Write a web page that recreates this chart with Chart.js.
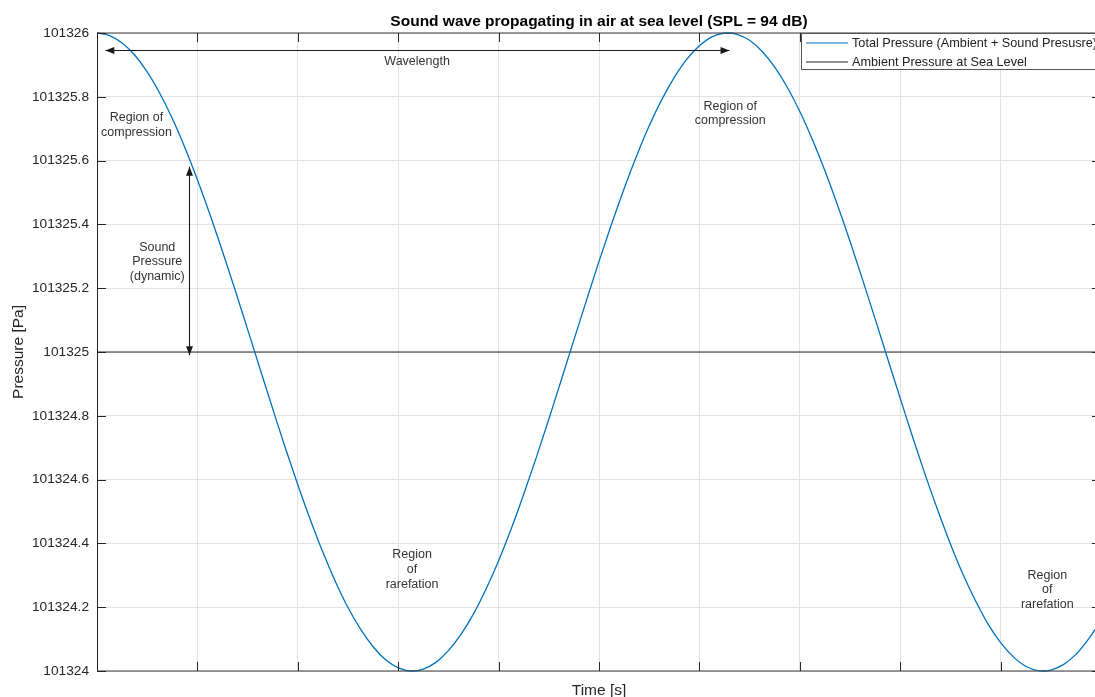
<!DOCTYPE html>
<html>
<head>
<meta charset="utf-8">
<title>Sound wave propagating in air at sea level</title>
<script src="https://cdn.jsdelivr.net/npm/chart.js@4/dist/chart.umd.min.js"></script>
<style>
  html, body { margin: 0; padding: 0; background: #ffffff; }
  #wrap { width: 1095px; height: 697px; position: relative; }
  canvas { display: block; }
</style>
</head>
<body>
<div id="wrap"><canvas id="chart" width="1095" height="697"></canvas></div>
<script>
// Time samples [s] and total pressure readings [Pa]
const timeS = [
  0, 0.125, 0.25, 0.375, 0.5, 0.625, 0.75, 0.875, 1.0, 1.125, 1.25, 1.375, 1.5, 1.625,
  1.75, 1.875, 2.0, 2.125, 2.25, 2.375, 2.5, 2.625, 2.75, 2.875, 3.0, 3.14, 3.25, 3.375,
  3.5, 3.625, 3.75, 3.875, 4.0, 4.125, 4.25, 4.375, 4.5, 4.625, 4.75, 4.875, 5.0, 5.125,
  5.25, 5.375, 5.5, 5.625, 5.75, 5.875, 6.0, 6.125, 6.28, 6.375, 6.5, 6.625, 6.75, 6.875,
  7.0, 7.125, 7.25, 7.375, 7.5, 7.625, 7.75, 7.875, 8.0, 8.125, 8.25, 8.375, 8.5, 8.625,
  8.75, 8.875, 9.0, 9.125, 9.25, 9.42, 9.5, 9.625, 9.75, 9.875, 9.94
];
const pressurePa = [
  101326.000, 101325.992, 101325.969, 101325.931, 101325.878, 101325.811, 101325.732,
  101325.641, 101325.540, 101325.431, 101325.315, 101325.195, 101325.071, 101324.946,
  101324.822, 101324.700, 101324.584, 101324.474, 101324.372, 101324.280, 101324.199,
  101324.131, 101324.076, 101324.035, 101324.010, 101324.000, 101324.006, 101324.027,
  101324.064, 101324.115, 101324.179, 101324.257, 101324.346, 101324.445, 101324.554,
  101324.669, 101324.789, 101324.913, 101325.038, 101325.162, 101325.284, 101325.401,
  101325.512, 101325.615, 101325.709, 101325.791, 101325.861, 101325.918, 101325.960,
  101325.988, 101326.000, 101325.996, 101325.977, 101325.942, 101325.893, 101325.830,
  101325.754, 101325.666, 101325.568, 101325.461, 101325.347, 101325.227, 101325.104,
  101324.979, 101324.855, 101324.732, 101324.614, 101324.503, 101324.398, 101324.303,
  101324.220, 101324.147, 101324.089, 101324.045, 101324.015, 101324.000, 101324.003,
  101324.020, 101324.052, 101324.100, 101324.130
];
// Ambient pressure at sea level [Pa]
const ambientPa = 101325;
// Axis ticks
const xTickTimes = [1, 2, 3, 4, 5, 6, 7, 8, 9, 10];
const yTickValues = [101324, 101324.2, 101324.4, 101324.6, 101324.8, 101325,
                     101325.2, 101325.4, 101325.6, 101325.8, 101326];
const yTickLabels = ['101324', '101324.2', '101324.4', '101324.6', '101324.8', '101325',
                     '101325.2', '101325.4', '101325.6', '101325.8', '101326'];
// Series names
const seriesNames = ['Total Pressure (Ambient + Sound Presusre)', 'Ambient Pressure at Sea Level'];

const FONT = '"Liberation Sans", Arial, Helvetica, sans-serif';
const INK = '#262626';
const BLUE = '#0072BD';

// Text notes and arrows placed in data coordinates (time, pressure)
const notes = [
  { t: 0.393, p: 101325.712, lines: ['Region of', 'compression'] },
  { t: 0.600, p: 101325.282, lines: ['Sound', 'Pressure', '(dynamic)'] },
  { t: 6.307, p: 101325.748, lines: ['Region of', 'compression'] },
  { t: 3.138, p: 101324.318, lines: ['Region', 'of', 'rarefation'] },
  { t: 9.465, p: 101324.254, lines: ['Region', 'of', 'rarefation'] },
  { t: 3.188, p: 101325.912, lines: ['Wavelength'] }
];
const arrows = [
  { t0: 0.083, p0: 101325.947, t1: 6.300, p1: 101325.947 },
  { t0: 0.917, p0: 101324.990, t1: 0.917, p1: 101325.581 }
];

function arrowHead(ctx, x, y, dx, dy) {
  const len = 9, half = 3.5;
  const n = Math.hypot(dx, dy) || 1;
  const ux = dx / n, uy = dy / n;
  ctx.beginPath();
  ctx.moveTo(x, y);
  ctx.lineTo(x - ux * len - uy * half, y - uy * len + ux * half);
  ctx.lineTo(x - ux * len + uy * half, y - uy * len - ux * half);
  ctx.closePath();
  ctx.fill();
}

const decorations = {
  id: 'soundDecorations',
  afterDatasetsDraw(chart) {
    const { ctx, chartArea: a, scales } = chart;
    const x = scales.x, y = scales.y;
    const right = x.getPixelForValue(10);
    ctx.save();

    // axes frame (top and bottom)
    ctx.strokeStyle = '#3a3a3a';
    ctx.lineWidth = 1.2;
    ctx.beginPath();
    ctx.moveTo(a.left, a.top); ctx.lineTo(right, a.top);
    ctx.moveTo(a.left, a.bottom); ctx.lineTo(right, a.bottom);
    ctx.stroke();
    ctx.lineWidth = 1;
    ctx.strokeStyle = INK;
    ctx.beginPath();
    ctx.moveTo(Math.round(right) + 0.5, a.top); ctx.lineTo(Math.round(right) + 0.5, a.bottom);
    ctx.stroke();

    // inward tick marks
    ctx.beginPath();
    xTickTimes.forEach(t => {
      const px = Math.round(x.getPixelForValue(t)) + 0.5;
      ctx.moveTo(px, a.bottom); ctx.lineTo(px, a.bottom - 9);
      ctx.moveTo(px, a.top); ctx.lineTo(px, a.top + 9);
    });
    yTickValues.forEach(v => {
      const py = Math.round(y.getPixelForValue(v)) + 0.5;
      ctx.moveTo(a.left, py); ctx.lineTo(a.left + 9, py);
      ctx.moveTo(right, py); ctx.lineTo(right - 9, py);
    });
    ctx.stroke();

    // arrows
    ctx.strokeStyle = '#1a1a1a';
    ctx.fillStyle = '#1a1a1a';
    ctx.lineWidth = 1.1;
    arrows.forEach(ar => {
      const x0 = x.getPixelForValue(ar.t0), y0 = y.getPixelForValue(ar.p0);
      const x1 = x.getPixelForValue(ar.t1), y1 = y.getPixelForValue(ar.p1);
      const ax = Math.abs(x1 - x0) < 1 ? Math.round(x0) + 0.5 : null;
      const ay = Math.abs(y1 - y0) < 1 ? Math.round(y0) + 0.5 : null;
      const X0 = ax ?? x0, X1 = ax ?? x1, Y0 = ay ?? y0, Y1 = ay ?? y1;
      ctx.beginPath();
      ctx.moveTo(X0, Y0); ctx.lineTo(X1, Y1);
      ctx.stroke();
      arrowHead(ctx, X1, Y1, X1 - X0, Y1 - Y0);
      arrowHead(ctx, X0, Y0, X0 - X1, Y0 - Y1);
    });

    // text notes
    ctx.fillStyle = '#333333';
    ctx.font = '12.5px ' + FONT;
    ctx.textAlign = 'center';
    ctx.textBaseline = 'middle';
    const lh = 14.6;
    notes.forEach(n => {
      const cx = x.getPixelForValue(n.t), cy = y.getPixelForValue(n.p);
      const top = cy - (n.lines.length - 1) * lh / 2;
      n.lines.forEach((s, i) => ctx.fillText(s, cx, top + i * lh));
    });

    // legend box
    const lx = 801.5, ly = Math.round(a.top) + 0.5, lw = 310, lhBox = 36;
    ctx.fillStyle = '#ffffff';
    ctx.fillRect(lx, ly, lw, lhBox);
    ctx.strokeStyle = '#555555';
    ctx.lineWidth = 1;
    ctx.strokeRect(lx, ly, lw, lhBox);
    const rows = [ly + 9.5, ly + 28.5];
    const colors = [BLUE, INK];
    ctx.textAlign = 'left';
    ctx.textBaseline = 'middle';
    ctx.font = '12.7px ' + FONT;
    rows.forEach((ry, i) => {
      ctx.strokeStyle = colors[i];
      ctx.lineWidth = 1.2;
      ctx.beginPath();
      ctx.moveTo(806, ry); ctx.lineTo(848, ry);
      ctx.stroke();
      ctx.fillStyle = '#222222';
      ctx.fillText(seriesNames[i], 852, ry + 0.5);
    });

    ctx.restore();
  },
  afterDraw(chart) {
    const { ctx, chartArea: a, scales } = chart;
    const cxAxes = (a.left + scales.x.getPixelForValue(10)) / 2;
    ctx.save();
    ctx.fillStyle = '#000000';
    ctx.textAlign = 'center';
    ctx.textBaseline = 'alphabetic';
    ctx.font = 'bold 15.5px ' + FONT;
    ctx.fillText('Sound wave propagating in air at sea level (SPL = 94 dB)', cxAxes, 25.5);
    ctx.fillStyle = INK;
    ctx.font = '15.5px ' + FONT;
    ctx.fillText('Time [s]', cxAxes, 695);
    ctx.translate(23, (a.top + a.bottom) / 2);
    ctx.rotate(-Math.PI / 2);
    ctx.fillText('Pressure [Pa]', 0, 0);
    ctx.restore();
  }
};

new Chart(document.getElementById('chart'), {
  type: 'line',
  data: {
    datasets: [
      {
        label: seriesNames[0],
        data: timeS.map((t, i) => ({ x: t, y: pressurePa[i] })),
        borderColor: BLUE,
        borderWidth: 1.3,
        pointRadius: 0,
        fill: false,
        cubicInterpolationMode: 'monotone',
        clip: 3
      },
      {
        label: seriesNames[1],
        data: [{ x: 0, y: ambientPa }, { x: 9.94, y: ambientPa }],
        borderColor: INK,
        borderWidth: 1,
        pointRadius: 0,
        fill: false
      }
    ]
  },
  options: {
    responsive: false,
    devicePixelRatio: 1,
    animation: false,
    events: [],
    layout: { padding: { top: 33, left: 0, right: 0, bottom: 0 } },
    plugins: { legend: { display: false }, title: { display: false }, tooltip: { enabled: false } },
    scales: {
      x: {
        type: 'linear',
        min: 0,
        max: 9.94,
        afterBuildTicks: s => { s.ticks = xTickTimes.slice(0, 9).map(v => ({ value: v })); },
        afterFit: s => { s.height = 26; },
        ticks: { display: false },
        grid: { color: '#e2e2e2', lineWidth: 1, drawTicks: false },
        border: { display: false }
      },
      y: {
        type: 'linear',
        min: 101324,
        max: 101326,
        afterBuildTicks: s => { s.ticks = yTickValues.map(v => ({ value: v })); },
        afterFit: s => { s.width = 97; },
        ticks: {
          callback: (v, i) => yTickLabels[i],
          color: INK,
          font: { family: FONT, size: 13.7 },
          padding: 8
        },
        grid: { color: '#e2e2e2', lineWidth: 1, drawTicks: false },
        border: { display: true, color: INK, width: 1 }
      }
    }
  },
  plugins: [decorations]
});
</script>
</body>
</html>
